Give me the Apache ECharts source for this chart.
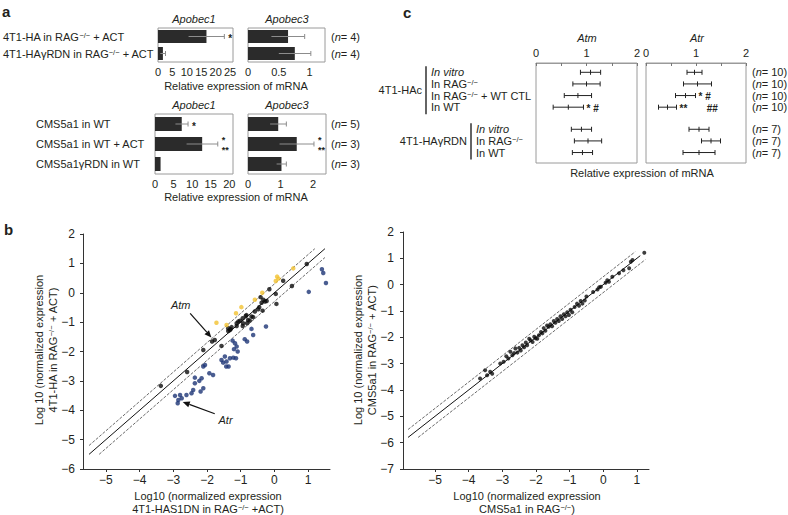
<!DOCTYPE html>
<html><head><meta charset="utf-8">
<script src="https://cdn.jsdelivr.net/npm/echarts@6/dist/echarts.min.js"></script>
<style>html,body{margin:0;padding:0;background:#fff}#c{width:788px;height:515px}</style>
</head><body><div id="c"></div>
<script>
// ===== Panel a =====
const aTopCategories = ['4T1-HA in RAG−/− + ACT', '4T1-HAγRDN in RAG−/− + ACT'];
const aTopN = [4, 4];
const apobec1TopMean = [16.8, 1.7];
const apobec1TopErr = [6.2, 0.9];
const apobec1TopSig = ['*', ''];
const apobec3TopMean = [0.65, 0.76];
const apobec3TopErr = [0.27, 0.26];
const apobec3TopSig = ['', ''];
const aBotCategories = ['CMS5a1 in WT', 'CMS5a1 in WT + ACT', 'CMS5a1γRDN in WT'];
const aBotN = [5, 3, 3];
const apobec1BotMean = [7.2, 12.7, 1.5];
const apobec1BotErr = [1.7, 4.2, 0];
const apobec1BotSig = ['*', '*\n**', ''];
const apobec3BotMean = [0.93, 1.5, 1.03];
const apobec3BotErr = [0.25, 0.53, 0.15];
const apobec3BotSig = ['', '*\n**', ''];
const apobec1TopTicks = [0, 5, 10, 15, 20, 25];
const apobec3TopTicks = [0, 0.5, 1];
const apobec1BotTicks = [0, 5, 10, 15, 20];
const apobec3BotTicks = [0, 1, 2];

// ===== Panel c =====
const cGroups = ['4T1-HAc', '4T1-HAγRDN'];
const cRowGroup = [0, 0, 0, 0, 1, 1, 1];
const cRows = ['In vitro', 'In RAG−/−', 'In RAG−/− + WT CTL', 'In WT', 'In vitro', 'In RAG−/−', 'In WT'];
const cN = [10, 10, 10, 10, 7, 7, 7];
const atmMean = [1.08, 1.0, 0.83, 0.64, 0.9, 1.03, 0.92];
const atmErr = [0.2, 0.27, 0.27, 0.3, 0.2, 0.27, 0.2];
const atmSig = ['', '', '', '* #', '', '', ''];
const atrMean = [0.97, 1.03, 0.79, 0.43, 1.06, 1.3, 1.06];
const atrErr = [0.15, 0.28, 0.2, 0.18, 0.2, 0.19, 0.32];
const atrSig = ['', '', '* #', '**       ##', '', '', ''];
const cTicks = [0, 1, 2];

// ===== Panel b (left) =====
const leftBlack = [[-3.37,-3.17],[-2.59,-2.7],[-2.11,-1.95],[-1.85,-1.66],[-1.77,-1.61],[-1.57,-1.81],[-1.37,-1.3],[-1.32,-1.27],[-1.27,-1.17],[-1.37,-1.21],[-1.3,-1.24],[-1.12,-1.04],[-1.12,-1.13],[-1.07,-0.98],[-1.02,-0.95],[-0.94,-1.13],[-0.93,-1.04],[-0.94,-0.87],[-0.85,-0.79],[-0.83,-0.76],[-0.81,-1.04],[-0.78,-0.93],[-0.73,-0.95],[-0.68,-0.81],[-0.63,-0.83],[-0.58,-0.64],[-0.48,-0.56],[-0.45,-0.49],[-0.41,-0.15],[-0.38,-0.34],[-0.35,-0.61],[-0.33,-0.24],[-0.28,-0.3],[-0.23,-0.28],[-0.15,0.12],[0.04,-0.04],[0.06,-0.38],[0.26,0.41],[0.52,0.23],[0.96,0.98]];
const leftYellow = [[-1.72,-1.02],[-1.42,-1.1],[-1.14,-0.7],[-0.98,-0.49],[-0.58,-0.24],[-0.36,0.0],[0.04,0.4],[0.08,0.55],[0.12,0.48],[0.56,0.83]];
const leftBlue = [[1.41,0.8],[1.45,0.67],[1.53,0.33],[1.02,0.03],[-0.25,-1.15],[-0.68,-1.23],[-0.63,-1.44],[-0.88,-1.58],[-0.81,-1.66],[-1.24,-1.63],[-1.17,-1.72],[-1.12,-1.83],[-1.2,-1.92],[-1.09,-2.0],[-1.47,-2.17],[-1.57,-2.29],[-1.52,-2.38],[-1.42,-2.34],[-1.32,-2.23],[-1.22,-2.21],[-1.14,-2.23],[-1.36,-2.51],[-1.43,-2.51],[-2.11,-2.51],[-2.06,-2.46],[-1.93,-2.74],[-1.82,-2.8],[-2.36,-2.89],[-2.23,-3.0],[-2.36,-3.08],[-2.16,-2.91],[-2.11,-3.25],[-2.19,-3.36],[-2.41,-3.31],[-2.46,-3.42],[-2.61,-3.48],[-2.8,-3.48],[-2.95,-3.51],[-2.85,-3.65],[-2.75,-3.59],[-2.87,-3.76]];
const leftTicksX = [-5, -4, -3, -2, -1, 0, 1];
// ===== Panel b (right) =====
const rightPoints = [[-3.66,-3.56],[-3.51,-3.25],[-3.45,-3.44],[-3.36,-3.31],[-3.3,-3.38],[-3.06,-2.99],[-2.96,-2.93],[-2.88,-2.72],[-2.82,-2.8],[-2.76,-2.55],[-2.7,-2.68],[-2.65,-2.6],[-2.61,-2.42],[-2.55,-2.58],[-2.5,-2.4],[-2.45,-2.5],[-2.4,-2.3],[-2.35,-2.38],[-2.3,-2.2],[-2.26,-2.3],[-2.2,-2.05],[-2.16,-2.11],[-2.1,-2.18],[-2.05,-1.98],[-2.01,-2.04],[-1.96,-2.05],[-1.91,-1.92],[-1.85,-1.8],[-1.81,-1.85],[-1.77,-1.65],[-1.72,-1.75],[-1.67,-1.55],[-1.62,-1.6],[-1.57,-1.5],[-1.52,-1.58],[-1.47,-1.38],[-1.42,-1.45],[-1.37,-1.3],[-1.32,-1.38],[-1.27,-1.2],[-1.22,-1.3],[-1.17,-1.12],[-1.12,-1.2],[-1.07,-1.05],[-1.02,-1.15],[-0.97,-0.95],[-0.92,-1.05],[-0.85,-0.85],[-0.78,-0.72],[-0.72,-0.8],[-0.67,-0.62],[-0.62,-0.72],[-0.55,-0.6],[-0.5,-0.45],[-0.3,-0.28],[-0.17,-0.18],[-0.12,-0.1],[-0.07,-0.08],[0.07,0.07],[0.12,0.17],[0.17,0.11],[0.27,0.3],[0.47,0.43],[0.6,0.55],[0.77,0.62],[0.82,0.87],[0.87,0.94],[1.22,1.21]];
const rightTicksX = [-5, -4, -3, -2, -1, 0, 1];
// fold-change guide lines y = x + offset
const diagOffsets = [0.3, 0, -0.3];
const diagLeftRanges = [[-5.5, 1.2], [-5.5, 1.5], [-5.2, 1.5]];
const diagRightRanges = [[-5.8, 0.95], [-5.8, 1.1], [-5.5, 1.25]];

const FF = '"Liberation Sans", Arial, Helvetica, sans-serif';
const TXT = '#231f20';
const BOX = '#9a9a9a';
const FS = 11;
const minus = v => String(v).replace('-', '−');
const supFmt = s => s.split('−/−').join('{s|−/−}');
const richAx = { s: { fontSize: 7.5, verticalAlign: 'top', color: TXT, fontFamily: FF }, i: { fontStyle: 'italic', color: TXT, fontFamily: FF, fontSize: FS } };
const richG = { s: { fontSize: 7.5, verticalAlign: 'top', fill: TXT, fontFamily: FF }, i: { fontStyle: 'italic', fill: TXT, fontFamily: FF, fontSize: FS } };

const gridBox = { show: true, borderColor: BOX, borderWidth: 1, backgroundColor: 'transparent' };
const grids = [
  Object.assign({ left: 155, top: 28, width: 78, height: 34 }, gridBox),
  Object.assign({ left: 248, top: 28, width: 77, height: 34 }, gridBox),
  Object.assign({ left: 155, top: 114, width: 78, height: 60 }, gridBox),
  Object.assign({ left: 248, top: 114, width: 78, height: 60 }, gridBox),
  Object.assign({ left: 536, top: 63, width: 101, height: 100 }, gridBox),
  Object.assign({ left: 646, top: 63, width: 100, height: 100 }, gridBox),
  { left: 83, top: 234, width: 247, height: 235 },
  { left: 403, top: 232, width: 246, height: 237 }
];

function aX(gi, max, ticks) {
  return { gridIndex: gi, type: 'value', min: 0, max: max, axisLine: { show: false }, axisTick: { show: false }, splitLine: { show: false },
    axisLabel: { customValues: ticks, margin: 4, fontSize: FS, color: TXT, fontFamily: FF } };
}
function cX(gi) {
  return { gridIndex: gi, type: 'value', position: 'top', min: 0, max: 2, interval: 0.5,
    axisLine: { show: true, onZero: false, lineStyle: { color: BOX } }, axisTick: { show: true, inside: true, length: 3, lineStyle: { color: '#777' } },
    splitLine: { show: false }, axisLabel: { customValues: cTicks, margin: 5, fontSize: FS, color: TXT, fontFamily: FF } };
}
function bX(gi, min, max, ticks) {
  return { gridIndex: gi, type: 'value', min: min, max: max, axisLine: { show: true, onZero: false, lineStyle: { color: '#333' } },
    axisTick: { show: true, customValues: ticks, length: 3, lineStyle: { color: '#333' } }, splitLine: { show: false },
    axisLabel: { customValues: ticks, margin: 5, fontSize: 12, color: TXT, fontFamily: FF, formatter: minus } };
}
function bY(gi, min, max, margin) {
  return { gridIndex: gi, type: 'value', min: min, max: max, interval: 1, axisLine: { show: true, onZero: false, lineStyle: { color: '#333' } },
    axisTick: { show: true, length: 3, lineStyle: { color: '#333' } }, splitLine: { show: false },
    axisLabel: { margin: margin, fontSize: 12, color: TXT, fontFamily: FF, formatter: minus } };
}
const nFmt = arr => (v, i) => '({i|n}= ' + arr[i] + ')';

const xAxes = [aX(0, 26, apobec1TopTicks), aX(1, 1.25, apobec3TopTicks), aX(2, 21, apobec1BotTicks), aX(3, 2.4, apobec3BotTicks),
  cX(4), cX(5), bX(6, -5.68, 1.65, leftTicksX), bX(7, -5.95, 1.36, rightTicksX)];
const yAxes = [
  { gridIndex: 0, type: 'category', data: aTopCategories, inverse: true, axisLine: { show: false }, axisTick: { show: false },
    axisLabel: { align: 'left', margin: 155, fontSize: FS, color: TXT, fontFamily: FF, formatter: supFmt, rich: richAx } },
  { gridIndex: 1, type: 'category', data: aTopCategories, inverse: true, position: 'right', axisLine: { show: false }, axisTick: { show: false },
    axisLabel: { margin: 6, fontSize: FS, color: TXT, fontFamily: FF, formatter: nFmt(aTopN), rich: richAx } },
  { gridIndex: 2, type: 'category', data: aBotCategories, inverse: true, axisLine: { show: false }, axisTick: { show: false },
    axisLabel: { align: 'left', margin: 119, fontSize: FS, color: TXT, fontFamily: FF, formatter: supFmt, rich: richAx } },
  { gridIndex: 3, type: 'category', data: aBotCategories, inverse: true, position: 'right', axisLine: { show: false }, axisTick: { show: false },
    axisLabel: { margin: 5, fontSize: FS, color: TXT, fontFamily: FF, formatter: nFmt(aBotN), rich: richAx } },
  { gridIndex: 4, type: 'value', min: -0.8, max: 7.8, inverse: true, show: false },
  { gridIndex: 5, type: 'value', min: -0.8, max: 7.8, inverse: true, show: false },
  bY(6, -6, 2, 8), bY(7, -7, 2, 9)
];

function barSeries(ax, means, bw) {
  return { type: 'bar', xAxisIndex: ax, yAxisIndex: ax, data: means, barWidth: bw, itemStyle: { color: '#2b2b2b' }, z: 2, animation: false };
}
function barErr(ax, means, errs) {
  return { type: 'custom', xAxisIndex: ax, yAxisIndex: ax, z: 5, animation: false, silent: true,
    data: means.map((m, i) => [m, i, errs[i]]), encode: { x: 0, y: 1 },
    renderItem: (params, api) => {
      const m = api.value(0), i = api.value(1), e = api.value(2);
      const ch = [];
      const st = { stroke: '#8c8c8c', lineWidth: 1, fill: null };
      if (e > 0) {
        const p0 = api.coord([m - e, i]), p1 = api.coord([m + e, i]);
        ch.push({ type: 'line', shape: { x1: p0[0], y1: p0[1], x2: p1[0], y2: p1[1] }, style: st });
        ch.push({ type: 'line', shape: { x1: p1[0], y1: p1[1] - 2.5, x2: p1[0], y2: p1[1] + 2.5 }, style: st });
      }
      return { type: 'group', children: ch };
    } };
}
const rowPos = i => i + cRowGroup[i] * 0.9;
function cErr(ax, means, errs) {
  return { type: 'custom', xAxisIndex: ax, yAxisIndex: ax, z: 5, animation: false, silent: true,
    data: means.map((m, i) => [m, rowPos(i), errs[i]]), encode: { x: 0, y: 1 },
    renderItem: (params, api) => {
      const m = api.value(0), r = api.value(1), e = api.value(2);
      const p0 = api.coord([m - e, r]), pm = api.coord([m, r]), p1 = api.coord([m + e, r]);
      const st = { stroke: '#222', lineWidth: 1, fill: null };
      return { type: 'group', children: [
        { type: 'line', shape: { x1: p0[0], y1: p0[1], x2: p1[0], y2: p1[1] }, style: st },
        { type: 'line', shape: { x1: p0[0], y1: p0[1] - 2.5, x2: p0[0], y2: p0[1] + 2.5 }, style: st },
        { type: 'line', shape: { x1: p1[0], y1: p1[1] - 2.5, x2: p1[0], y2: p1[1] + 2.5 }, style: st },
        { type: 'line', shape: { x1: pm[0], y1: pm[1] - 2.5, x2: pm[0], y2: pm[1] + 2.5 }, style: st }
      ] };
    } };
}
function diagSeries(ax, ranges) {
  return ranges.map((rg, k) => ({ type: 'line', xAxisIndex: ax, yAxisIndex: ax, showSymbol: false, silent: true, animation: false, z: 1,
    data: rg.map(x => [x, x + diagOffsets[k]]),
    lineStyle: diagOffsets[k] === 0 ? { color: '#111', width: 1 } : { color: '#444', width: 0.8, type: [3, 1.5] } }));
}
function scat(ax, pts, color, size) {
  return { type: 'scatter', xAxisIndex: ax, yAxisIndex: ax, data: pts, symbolSize: size, itemStyle: { color: color }, z: 3, animation: false };
}

const series = [
  barSeries(0, apobec1TopMean, 13), barErr(0, apobec1TopMean, apobec1TopErr),
  barSeries(1, apobec3TopMean, 13), barErr(1, apobec3TopMean, apobec3TopErr),
  barSeries(2, apobec1BotMean, 14), barErr(2, apobec1BotMean, apobec1BotErr),
  barSeries(3, apobec3BotMean, 14), barErr(3, apobec3BotMean, apobec3BotErr),
  cErr(4, atmMean, atmErr), cErr(5, atrMean, atrErr),
  ...diagSeries(6, diagLeftRanges), ...diagSeries(7, diagRightRanges),
  scat(6, leftBlack, '#0d0d0d', 4.5), scat(6, leftYellow, '#f2c230', 4.5), scat(6, leftBlue, '#1d3576', 4.5),
  scat(7, rightPoints, '#0d0d0d', 4)
];

const chart = echarts.init(document.getElementById('c'), null, { renderer: 'svg', width: 788, height: 515 });
chart.setOption({ backgroundColor: '#fff', animation: false, textStyle: { fontFamily: FF }, grid: grids, xAxis: xAxes, yAxis: yAxes, series: series });

// ---- text annotations ----
const g = [];
function T(x, y, text, opt) {
  opt = opt || {};
  const st = { text: text, fill: TXT, fontSize: opt.size || FS, fontFamily: FF, fontStyle: opt.italic ? 'italic' : 'normal',
      fontWeight: opt.bold ? 'bold' : 'normal', align: opt.align || 'center', verticalAlign: opt.va || 'middle', rich: richG };
  if (opt.lh) st.lineHeight = opt.lh;
  g.push({ type: 'text', x: x, y: y, rotation: opt.rot || 0, silent: true, style: st });
}
T(2, 11, 'a', { bold: true, size: 15, align: 'left' });
T(403, 12, 'c', { bold: true, size: 15, align: 'left' });
T(4, 229, 'b', { bold: true, size: 15, align: 'left' });
T(194, 19, 'Apobec1', { italic: true }); T(287, 19, 'Apobec3', { italic: true });
T(194, 105, 'Apobec1', { italic: true }); T(287, 105, 'Apobec3', { italic: true });
T(236, 86, 'Relative expression of mRNA'); T(236, 197, 'Relative expression of mRNA');
T(587, 38, 'Atm', { italic: true }); T(697, 38, 'Atr', { italic: true });
T(642, 173, 'Relative expression of mRNA');
// significance marks, panel a (stacked lines drawn as separate texts)
function barSig(gi, means, errs, sigs) {
  sigs.forEach((s, i) => {
    if (!s) return;
    const p = chart.convertToPixel({ gridIndex: gi }, [means[i] + errs[i], i]);
    const lines = s.split('\n');
    if (lines.length === 1) { T(p[0] + 4, p[1] + 2, lines[0], { align: 'left', size: 10, bold: true }); return; }
    T(p[0] + 4, p[1] + 0.5, lines[0], { align: 'left', size: 9, bold: true, va: 'bottom', lh: 9 });
    T(p[0] + 4, p[1] + 1.5, lines[1], { align: 'left', size: 9, bold: true, va: 'top', lh: 9 });
  });
}
barSig(0, apobec1TopMean, apobec1TopErr, apobec1TopSig);
barSig(1, apobec3TopMean, apobec3TopErr, apobec3TopSig);
barSig(2, apobec1BotMean, apobec1BotErr, apobec1BotSig);
barSig(3, apobec3BotMean, apobec3BotErr, apobec3BotSig);
// panel c rows
const gxBar = [426, 471];
const groupRows = [[], []];
cRows.forEach((name, i) => {
  const py = chart.convertToPixel({ gridIndex: 4 }, [0, rowPos(i)])[1];
  const gi = cRowGroup[i];
  groupRows[gi].push(py);
  const txt = name === 'In vitro' ? '{i|In vitro}' : supFmt(name);
  T(gxBar[gi] + 5, py, txt, { align: 'left' });
  const px = chart.convertToPixel({ gridIndex: 5 }, [2, rowPos(i)])[0];
  T(px + 6, py, '({i|n}= ' + cN[i] + ')', { align: 'left' });
  if (atmSig[i]) { const p = chart.convertToPixel({ gridIndex: 4 }, [atmMean[i] + atmErr[i], rowPos(i)]); T(p[0] + 3, p[1] + 1, atmSig[i], { align: 'left', size: 10, bold: true }); }
  if (atrSig[i]) { const p = chart.convertToPixel({ gridIndex: 5 }, [atrMean[i] + atrErr[i], rowPos(i)]); T(p[0] + 3, p[1] + 1, atrSig[i], { align: 'left', size: 10, bold: true }); }
});
groupRows.forEach((ys, gi) => {
  const y0 = ys[0] - 6, y1 = ys[ys.length - 1] + 7;
  g.push({ type: 'line', silent: true, shape: { x1: gxBar[gi], y1: y0, x2: gxBar[gi], y2: y1 }, style: { stroke: '#111', lineWidth: 1.3 } });
  T(gxBar[gi] - 4, (y0 + y1) / 2, cGroups[gi], { align: 'right' });
});
// panel b axis titles
T(39, 350, 'Log 10 (normalized expression', { rot: Math.PI / 2 });
T(53, 350, supFmt('4T1-HA in RAG−/− + ACT)'), { rot: Math.PI / 2 });
T(208, 496, 'Log10 (normalized expression');
T(208, 509, supFmt('4T1-HAS1DN in RAG−/− +ACT)'));
T(358, 350, 'Log 10 (normalized expression', { rot: Math.PI / 2 });
T(372, 350, supFmt('CMS5a1 in RAG−/− + ACT)'), { rot: Math.PI / 2 });
T(527, 496, 'Log10 (normalized expression');
T(527, 509, supFmt('CMS5a1 in RAG−/−)'));
// arrows
function arrow(from, to) {
  const a = chart.convertToPixel({ gridIndex: 6 }, from), b = chart.convertToPixel({ gridIndex: 6 }, to);
  const ang = Math.atan2(b[1] - a[1], b[0] - a[0]), L = 7, W = 3;
  const bx = b[0] - L * Math.cos(ang), by = b[1] - L * Math.sin(ang);
  g.push({ type: 'line', silent: true, shape: { x1: a[0], y1: a[1], x2: bx, y2: by }, style: { stroke: '#111', lineWidth: 1.2 } });
  g.push({ type: 'polygon', silent: true, shape: { points: [[b[0], b[1]], [bx - W * Math.sin(ang), by + W * Math.cos(ang)], [bx + W * Math.sin(ang), by - W * Math.cos(ang)]] }, style: { fill: '#111' } });
}
arrow([-2.5, -0.7], [-1.87, -1.52]);
arrow([-1.77, -4.12], [-2.72, -3.72]);
const atmL = chart.convertToPixel({ gridIndex: 6 }, [-2.78, -0.43]);
T(atmL[0], atmL[1], 'Atm', { italic: true });
const atrL = chart.convertToPixel({ gridIndex: 6 }, [-1.45, -4.33]);
T(atrL[0], atrL[1], 'Atr', { italic: true });

chart.setOption({ graphic: g });
</script></body></html>
